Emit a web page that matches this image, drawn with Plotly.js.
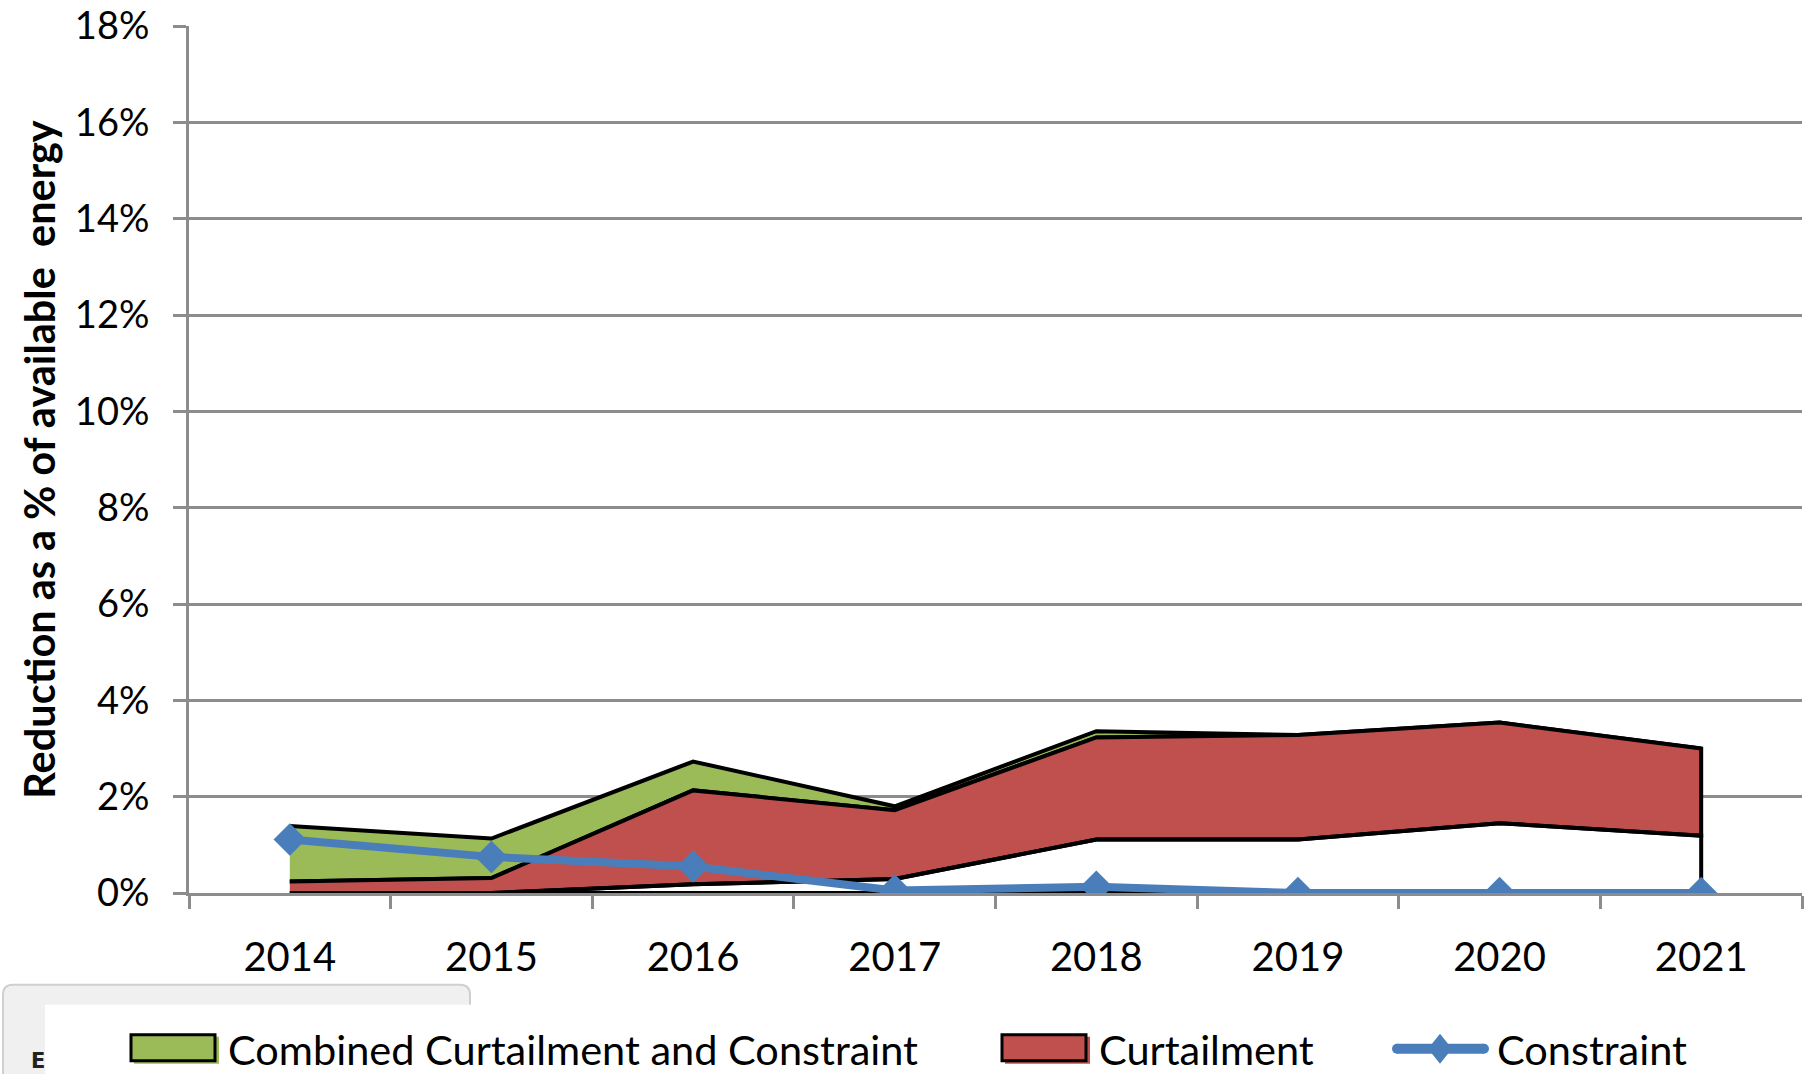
<!DOCTYPE html>
<html>
<head>
<meta charset="utf-8">
<script src="https://cdn.plot.ly/plotly-3.0.1.min.js"></script>
<style>html,body{margin:0;padding:0;background:#fff;}#chart{width:1814px;height:1074px;}</style>
</head>
<body>
<div id="chart"></div>
<script>
// ---- data (percent of available energy) ----
const years = ['2014','2015','2016','2017','2018','2019','2020','2021'];
const combined = [1.39, 1.13, 2.73, 1.80, 3.36, 3.28, 3.54, 3.00];   // top of green band
const curtailment = [0.24, 0.31, 2.13, 1.72, 3.23, 3.28, 3.54, 3.00]; // top of red band
const baseline = [0.00, 0.00, 0.18, 0.29, 1.11, 1.11, 1.45, 1.19];    // bottom of red band
const constraint = [1.11, 0.75, 0.55, 0.05, 0.13, 0.00, 0.00, 0.00];
const zeros = years.map(() => 0);
const yTicks = [0, 2, 4, 6, 8, 10, 12, 14, 16, 18];
const yTickText = yTicks.map(v => v + '%');
const seriesNames = ['Combined Curtailment and Constraint', 'Curtailment', 'Constraint'];
const colors = {green: '#9bbb59', red: '#c0504d', blue: '#4a7ebb'};

const rev = a => a.slice().reverse();
const OUT = '#000000';

const traces = [
  { // green band: between combined and curtailment
    name: seriesNames[0],
    x: years.concat(rev(years)),
    y: combined.concat(rev(curtailment)),
    mode: 'lines', fill: 'toself', fillcolor: colors.green,
    line: {color: OUT, width: 4}, hoverinfo: 'skip'
  },
  { // red band: between curtailment and baseline
    name: seriesNames[1],
    x: years.concat(rev(years)),
    y: curtailment.concat(rev(baseline)),
    mode: 'lines', fill: 'toself', fillcolor: colors.red,
    line: {color: OUT, width: 4}, hoverinfo: 'skip'
  },
  { // unfilled outline below the red band
    name: 'base',
    x: years.concat(rev(years)),
    y: baseline.concat(zeros),
    mode: 'lines', fill: 'none',
    line: {color: OUT, width: 4}, hoverinfo: 'skip'
  },
  {
    name: seriesNames[2],
    x: years, y: constraint,
    mode: 'lines+markers',
    line: {color: colors.blue, width: 8},
    marker: {symbol: 'diamond', size: 25, color: colors.blue}
  }
];

// pixel -> paper helpers (plot area: left 189, right 1802, top 26, bottom 893.2)
const L = 189, R = 1802, T = 26, B = 893.2;
const px = v => (v - L) / (R - L);
const py = v => (B - v) / (B - T);

const GRID = '#8c8c8c';
const legFont = {size: 41.5, family: 'Lato, "Open Sans", sans-serif', color: '#000'};
const legY = 1049;

function roundedBox(x0, y0, x1, y1, r) {
  return 'M' + px(x0) + ',' + py(y1) +
    ' L' + px(x0) + ',' + py(y0 + r) +
    ' Q' + px(x0) + ',' + py(y0) + ' ' + px(x0 + r) + ',' + py(y0) +
    ' L' + px(x1 - r) + ',' + py(y0) +
    ' Q' + px(x1) + ',' + py(y0) + ' ' + px(x1) + ',' + py(y0 + r) +
    ' L' + px(x1) + ',' + py(y1);
}

const shapes = [
  // screenshot artefact box at bottom-left
  {type: 'path', xref: 'paper', yref: 'paper', path: roundedBox(3, 985, 470, 1080, 10),
   fillcolor: '#f0f0f0', line: {color: '#cfcfcf', width: 2}, layer: 'above'},
  {type: 'rect', xref: 'paper', yref: 'paper', x0: px(45), x1: px(480), y0: py(1080), y1: py(1005),
   fillcolor: '#ffffff', line: {width: 0}, layer: 'above'},
  // legend swatches
  {type: 'rect', xref: 'paper', yref: 'paper', x0: px(134), x1: px(219), y0: py(1064), y1: py(1037),
   fillcolor: colors.green, line: {width: 0}, layer: 'above'},
  {type: 'rect', xref: 'paper', yref: 'paper', x0: px(131), x1: px(215), y0: py(1061), y1: py(1035),
   fillcolor: colors.green, line: {color: '#000', width: 3}, layer: 'above'},
  {type: 'rect', xref: 'paper', yref: 'paper', x0: px(1005), x1: px(1090), y0: py(1064), y1: py(1037),
   fillcolor: colors.red, line: {width: 0}, layer: 'above'},
  {type: 'rect', xref: 'paper', yref: 'paper', x0: px(1002), x1: px(1086), y0: py(1061), y1: py(1035),
   fillcolor: colors.red, line: {color: '#000', width: 3}, layer: 'above'},
  {type: 'line', xref: 'paper', yref: 'paper', x0: px(1397), x1: px(1484), y0: py(legY), y1: py(legY),
   line: {color: colors.blue, width: 10}, layer: 'above'},
  {type: 'circle', xref: 'paper', yref: 'paper', x0: px(1392), x1: px(1402), y0: py(legY + 5), y1: py(legY - 5),
   fillcolor: colors.blue, line: {width: 0}, layer: 'above'},
  {type: 'circle', xref: 'paper', yref: 'paper', x0: px(1479), x1: px(1489), y0: py(legY + 5), y1: py(legY - 5),
   fillcolor: colors.blue, line: {width: 0}, layer: 'above'},
  {type: 'path', xref: 'paper', yref: 'paper',
   path: 'M' + px(1440) + ',' + py(legY - 15) + ' L' + px(1452) + ',' + py(legY) + ' L' + px(1440) + ',' + py(legY + 15) +
         ' L' + px(1428) + ',' + py(legY) + ' Z',
   fillcolor: colors.blue, line: {width: 0}, layer: 'above'}
];

const annotations = [
  {xref: 'paper', yref: 'paper', x: px(29), y: py(1061), xanchor: 'left', yanchor: 'middle',
   text: '<b>E</b>', showarrow: false, font: {size: 21, color: '#222', family: 'DejaVu Sans'}},
  {xref: 'paper', yref: 'paper', x: px(226), y: py(legY), xanchor: 'left', yanchor: 'middle',
   text: seriesNames[0], showarrow: false, font: legFont},
  {xref: 'paper', yref: 'paper', x: px(1097), y: py(legY), xanchor: 'left', yanchor: 'middle',
   text: seriesNames[1], showarrow: false, font: legFont},
  {xref: 'paper', yref: 'paper', x: px(1495), y: py(legY), xanchor: 'left', yanchor: 'middle',
   text: seriesNames[2], showarrow: false, font: legFont}
];

const layout = {
  width: 1814, height: 1074,
  margin: {l: 189, r: 12, t: 26, b: 181},
  paper_bgcolor: '#ffffff', plot_bgcolor: '#ffffff',
  font: {family: 'Lato, "Open Sans", sans-serif', color: '#000'},
  showlegend: false,
  xaxis: {
    type: 'category', categoryarray: years, range: [-0.5, 7.5],
    showgrid: false, zeroline: false,
    showline: true, linecolor: GRID, linewidth: 3,
    ticks: 'outside', tickson: 'boundaries', ticklen: 13, tickwidth: 3, tickcolor: GRID,
    tickfont: {size: 40, family: 'Lato, sans-serif', color: '#000'},
    ticklabelstandoff: 27
  },
  yaxis: {
    range: [0, 18.0001], tickmode: 'array', tickvals: yTicks, ticktext: yTickText,
    ticklabeloverflow: 'allow',
    showgrid: true, gridcolor: GRID, gridwidth: 3, zeroline: false,
    showline: true, linecolor: GRID, linewidth: 3,
    ticks: 'outside', ticklen: 13, tickwidth: 3, tickcolor: GRID,
    tickfont: {size: 38, family: 'Lato, sans-serif', color: '#000'},
    ticklabelstandoff: 16,
    title: {text: '<b>Reduction as a % of available&nbsp; energy</b>', standoff: 7,
            font: {size: 41.5, family: 'Lato, sans-serif', color: '#000'}}
  },
  shapes: shapes,
  annotations: annotations
};

Plotly.newPlot('chart', traces, layout, {displayModeBar: false, staticPlot: true});
</script>
</body>
</html>
